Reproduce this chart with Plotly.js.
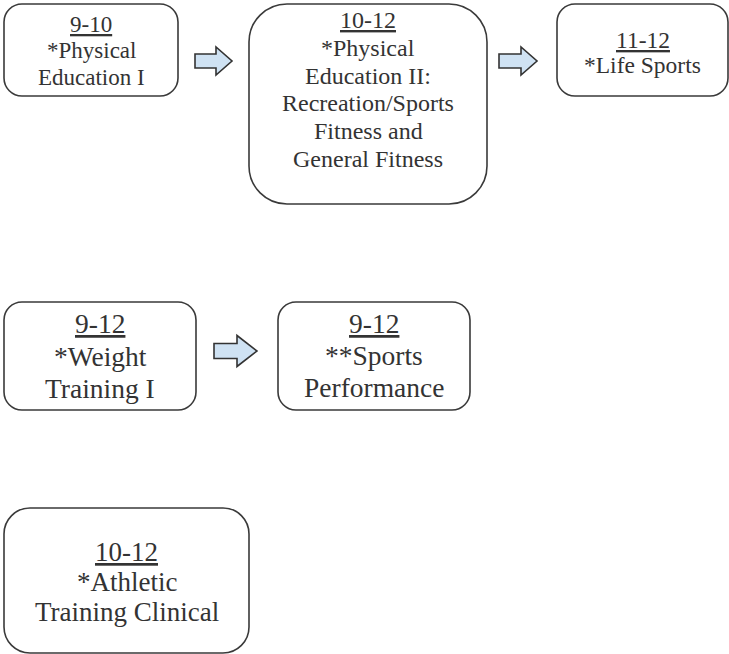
<!DOCTYPE html>
<html>
<head>
<meta charset="utf-8">
<script src="https://cdn.plot.ly/plotly-3.0.1.min.js"></script>
<style>html,body{margin:0;padding:0;background:#fff;}#chart{width:729px;height:654px;}</style>
</head>
<body>
<div id="chart"></div>
<script>
// ---- content ----
var gradeLabels = ["9-10", "10-12", "11-12", "9-12", "9-12", "10-12"];
var courseLines = [
  ["*Physical", "Education I"],
  ["*Physical", "Education II:", "Recreation/Sports", "Fitness and", "General Fitness"],
  ["*Life Sports"],
  ["*Weight", "Training I"],
  ["**Sports", "Performance"],
  ["*Athletic", "Training Clinical"]
];
// ---- geometry (pixel coordinates) ----
var boxX0 = [4, 249, 557, 4, 278, 4];
var boxX1 = [178, 487, 728, 196, 470, 249];
var boxY0 = [4, 4, 4, 302, 302, 508];
var boxY1 = [96, 204, 96, 410, 410, 653];
var boxR  = [18, 38, 18, 18, 18, 26];
var firstBaseline = [32, 28, 48, 333, 333, 561];
var lineGap = [26.5, 27.8, 25, 32.5, 32, 30];
var fontSize = [23, 24, 23.5, 27.5, 27.5, 27];

var arrowX0 = [195, 499, 214];
var arrowXH = [216, 521, 237];
var arrowX1 = [232, 537, 257];
var arrowYM = [61, 61, 351];
var arrowShaftH = [14, 14, 15];
var arrowHeadH = [28, 28, 31];

function roundRect(x0, y0, x1, y1, r) {
  var k = 0.5523 * r;
  return "M" + (x0 + r) + "," + y0 +
    " L" + (x1 - r) + "," + y0 +
    " C" + (x1 - r + k) + "," + y0 + " " + x1 + "," + (y0 + r - k) + " " + x1 + "," + (y0 + r) +
    " L" + x1 + "," + (y1 - r) +
    " C" + x1 + "," + (y1 - r + k) + " " + (x1 - r + k) + "," + y1 + " " + (x1 - r) + "," + y1 +
    " L" + (x0 + r) + "," + y1 +
    " C" + (x0 + r - k) + "," + y1 + " " + x0 + "," + (y1 - r + k) + " " + x0 + "," + (y1 - r) +
    " L" + x0 + "," + (y0 + r) +
    " C" + x0 + "," + (y0 + r - k) + " " + (x0 + r - k) + "," + y0 + " " + (x0 + r) + "," + y0 + " Z";
}
function arrowPath(i) {
  var ym = arrowYM[i], sh = arrowShaftH[i] / 2, hh = arrowHeadH[i] / 2;
  return "M" + arrowX0[i] + "," + (ym - sh) +
    " L" + arrowXH[i] + "," + (ym - sh) +
    " L" + arrowXH[i] + "," + (ym - hh) +
    " L" + arrowX1[i] + "," + ym +
    " L" + arrowXH[i] + "," + (ym + hh) +
    " L" + arrowXH[i] + "," + (ym + sh) +
    " L" + arrowX0[i] + "," + (ym + sh) + " Z";
}

var FONT = "Liberation Serif";
var shapes = [];
var annotations = [];
for (var i = 0; i < gradeLabels.length; i++) {
  shapes.push({
    type: "path", xref: "x", yref: "y",
    path: roundRect(boxX0[i], boxY0[i], boxX1[i], boxY1[i], boxR[i]),
    fillcolor: "#ffffff",
    line: {color: "#3a3a3a", width: 1.6}
  });
  var lines = ["<u>" + gradeLabels[i] + "</u>"].concat(courseLines[i]);
  for (var l = 0; l < lines.length; l++) {
    var baseline = firstBaseline[i] + l * lineGap[i];
    annotations.push({
      xref: "x", yref: "y",
      x: (boxX0[i] + boxX1[i]) / 2, y: baseline - 0.33 * fontSize[i],
      xanchor: "center", yanchor: "middle",
      text: lines[l],
      showarrow: false, align: "center",
      font: {family: FONT, size: fontSize[i], color: "#333333"}
    });
  }
}
for (var j = 0; j < arrowX0.length; j++) {
  shapes.push({
    type: "path", xref: "x", yref: "y",
    path: arrowPath(j),
    fillcolor: "#cfe2f3",
    line: {color: "#333333", width: 1.6}
  });
}

var layout = {
  width: 729, height: 654,
  margin: {l: 0, r: 0, t: 0, b: 0, pad: 0},
  paper_bgcolor: "#ffffff", plot_bgcolor: "#ffffff",
  xaxis: {range: [0, 729], visible: false, fixedrange: true},
  yaxis: {range: [654, 0], visible: false, fixedrange: true},
  showlegend: false,
  shapes: shapes,
  annotations: annotations
};
Plotly.newPlot("chart", [], layout, {staticPlot: true, displayModeBar: false});
</script>
</body>
</html>
